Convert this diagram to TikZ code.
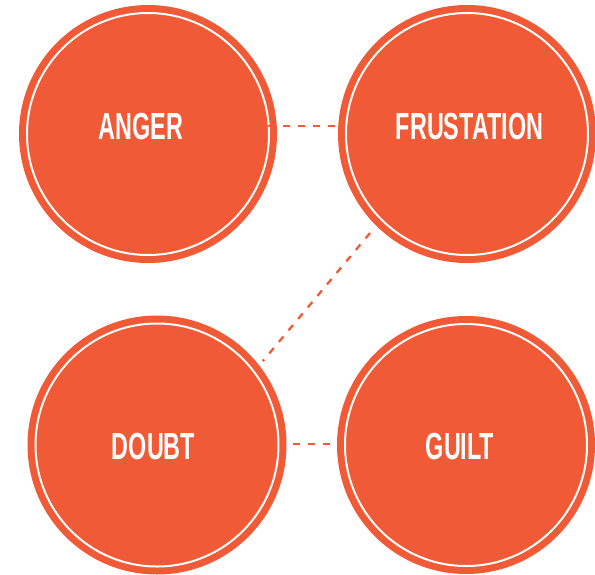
\documentclass[tikz,border=0pt]{standalone}
\usepackage{fontspec}
\setmainfont[FakeStretch=0.62]{Liberation Sans}
\usetikzlibrary{calc}
\definecolor{emo}{HTML}{F15A36}
\begin{document}
\begin{tikzpicture}[x=1pt,y=-1pt,
  bubble/.style={circle,fill=emo,inner sep=0pt,outer sep=0pt,minimum size=258pt},
  ring/.style={draw=white,line width=2pt},
  lbl/.style={text=white,font=\bfseries\fontsize{37.7}{40}\selectfont,inner sep=0pt},
  link/.style={draw=emo,line width=2.3pt,dash pattern=on 7pt off 8pt}]
\useasboundingbox (0,0) rectangle (595,574);
\node[bubble] (an) at (148,134) {};
\node[bubble] (fr) at (467,134) {};
\node[bubble,minimum size=259pt] (do) at (157,445) {};
\node[bubble] (gu) at (466,445) {};
\draw[ring] (an) circle (121pt);
\draw[ring] (fr) circle (121pt);
\draw[ring] (do) circle (121.5pt);
\draw[ring] (gu) circle (121pt);
\node[lbl] (tan) at (141,127) {ANGER};
\node[lbl] (tfr) at (469.5,127) {FRUSTATION};
\node[lbl] (tdo) at (153.5,447) {DOUBT};
\node[lbl] (tgu) at (460,447) {GUILT};
\draw[link] ([xshift=-9pt,yshift=8pt]an.east) -- ([xshift=1pt,yshift=8pt]fr.west);
\draw[link] ([xshift=6pt,yshift=1pt]do.east) -- ([yshift=1pt]gu.west);
\draw[link] ($(fr)+(225.6:138.6pt)$) -- ($(do)+(38.4:135pt)$);
\end{tikzpicture}
\end{document}
